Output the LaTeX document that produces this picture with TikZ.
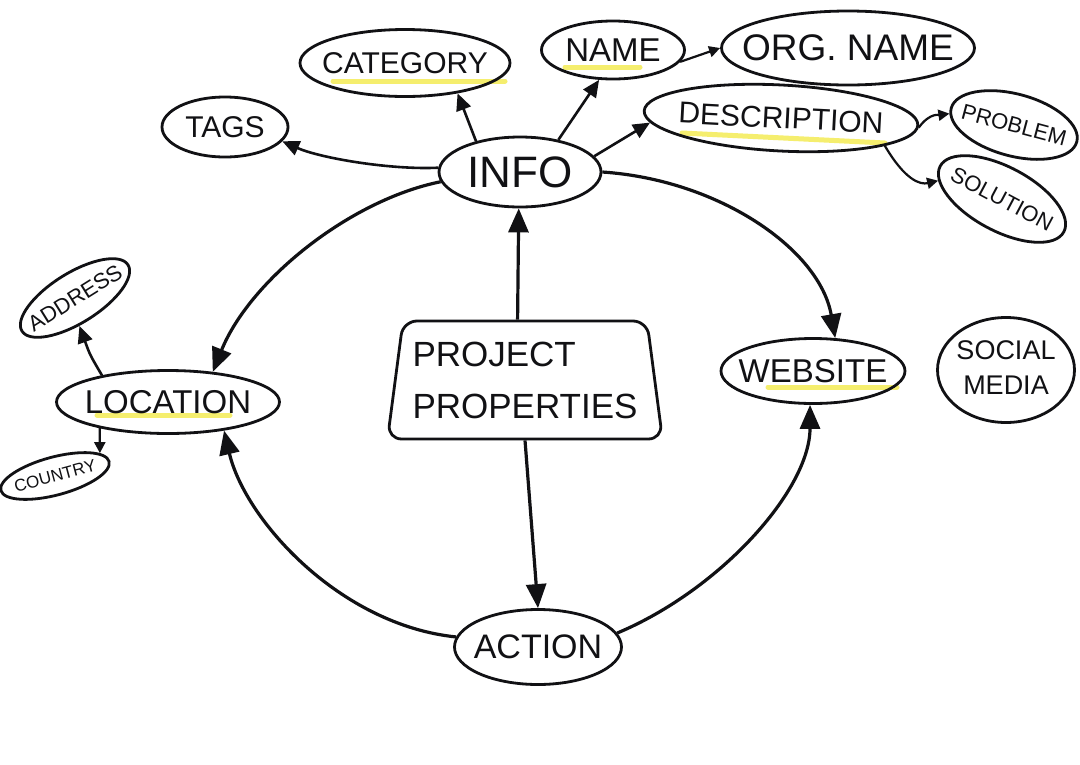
\documentclass[tikz,border=0pt]{standalone}
\usepackage{fontspec}
\setmainfont{Liberation Sans}
\usetikzlibrary{shapes.geometric,arrows.meta,calc}
\definecolor{hlyellow}{RGB}{245,238,110}
\definecolor{ink}{RGB}{17,17,20}
\newcommand{\zb}[1]{\makebox[0pt]{#1}}
\begin{document}
\begin{tikzpicture}[x=1pt,y=-1pt,
  ell/.style={ellipse,draw=ink,line width=2.8pt,inner sep=0pt,text=ink},
  fs/.style={font=\fontsize{#1}{#1}\selectfont},
  conn/.style={draw=ink,line width=3.2pt,-{Triangle[length=24pt,width=20pt]}},
  sconn/.style={draw=ink,line width=2.6pt,-{Triangle[length=17pt,width=15pt]}},
  tconn/.style={draw=ink,line width=2.2pt,-{Triangle[length=11pt,width=11pt]}},
  hl/.style={line width=5pt,hlyellow,line cap=round}
]
\useasboundingbox (0,0) rectangle (1080,764);
\fill[white] (0,0) rectangle (1080,764);

% highlights (drawn first, under the text)
\draw[hl] (333,81) -- (505,81);
\draw[hl] (565,67) -- (640,67);
\draw[hl] (682,133) -- (885,143);
\draw[hl] (97,415) -- (230,415);
\draw[hl] (768,387) -- (897,387);

% nodes
\node[ell,minimum width=162pt,minimum height=70pt,fs=44] (info) at (520,172) {\zb{INFO}};
\node[ell,minimum width=210pt,minimum height=67pt,fs=30] (cat) at (405,63) {\zb{CATEGORY}};
\node[ell,minimum width=143pt,minimum height=58pt,fs=33] (name) at (613,50) {\zb{NAME}};
\node[ell,minimum width=253pt,minimum height=74pt,fs=37] (org) at (848,48) {\zb{ORG. NAME}};
\node[ell,minimum width=274pt,minimum height=66pt,rotate=-3,fs=30] (desc) at (781,118) {\zb{DESCRIPTION}};
\node[ell,minimum width=130pt,minimum height=62pt,rotate=-15,fs=22] (prob) at (1014,125) {\zb{PROBLEM}};
\node[ell,minimum width=140pt,minimum height=64pt,rotate=-28,fs=22] (sol) at (1002,199) {\zb{SOLUTION}};
\node[ell,minimum width=126pt,minimum height=60pt,fs=30] (tags) at (225,127) {\zb{TAGS}};
\node[ell,minimum width=125pt,minimum height=50pt,rotate=32,fs=22] (addr) at (75,298) {\zb{ADDRESS}};
\node[ell,minimum width=223pt,minimum height=63pt,fs=33] (loc) at (168,402) {\zb{LOCATION}};
\node[ell,minimum width=112pt,minimum height=38pt,rotate=15,fs=17] (ctry) at (55,476) {\zb{COUNTRY}};
\node[ell,minimum width=184pt,minimum height=65pt,fs=33] (web) at (813,371) {\zb{WEBSITE}};
\node[ell,minimum width=137pt,minimum height=105pt,font=\fontsize{27}{35}\selectfont] (soc) at (1006,370)
  {\zb{\begin{tabular}{@{}c@{}}SOCIAL\\MEDIA\end{tabular}}};
\node[ell,minimum width=167pt,minimum height=75pt,fs=34] (act) at (538,647) {\zb{ACTION}};
\node[trapezium,draw=ink,text=ink,line width=2.8pt,trapezium left angle=80,trapezium right angle=80,
  trapezium stretches=true,minimum width=275pt,minimum height=118pt,rounded corners=14pt,
  align=left,font=\fontsize{35}{52}\selectfont] (proj) at (525,380) {PROJECT\\PROPERTIES};

% connectors
\draw[conn] (proj.97) -- (info.268);
\draw[conn] (proj.south) -- (act.north);
\draw[conn] (info.187) .. controls (350,200) and (250,280) .. (loc.34);
\draw[conn] (act.173) .. controls (340,625) and (245,520) .. (loc.-27);
\draw[conn] (info.0) .. controls (720,180) and (820,250) .. (web.56);
\draw[conn] (act.10) .. controls (720,590) and (810,490) .. (web.265);

\draw[sconn] (info.177) .. controls (390,170) and (320,158) .. (tags.-14);
\draw[sconn] (info.145) -- (cat.-30);
\draw[sconn] (info.40) -- (name.245);
\draw[sconn] (info.12) -- (desc.185);
\draw[tconn] (name.-10) -- (org.180);
\draw[tconn] (desc.-1) .. controls (930,112) and (940,115) .. (prob.185);
\draw[tconn] (desc.-12) .. controls (905,180) and (920,185) .. (sol.192);
\draw[sconn] (loc.158) .. controls (90,355) .. (addr.-113);
\draw[tconn] (loc.201) -- (ctry.12);
\end{tikzpicture}
\end{document}
